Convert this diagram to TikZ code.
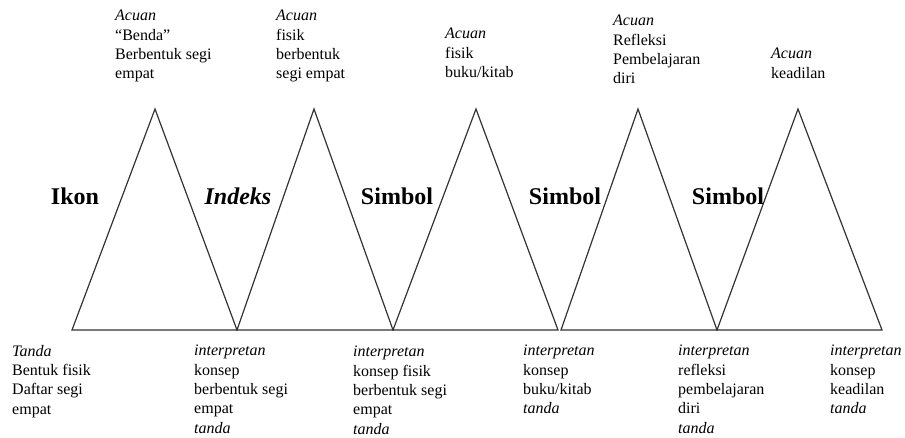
\documentclass[tikz,border=0pt]{standalone}
\usepackage{fontspec}
\setmainfont{Liberation Serif}
\usepackage{tikz}
\usetikzlibrary{positioning}

\begin{document}
\begin{tikzpicture}[
    x=1pt, y=-1pt,
    tri/.style={draw=black!80, line width=1.2pt, line join=miter},
    kind/.style={font=\fontsize{24}{26}\selectfont\bfseries, inner sep=0pt},
    note/.style={font=\fontsize{16}{19.3}\selectfont, align=left, anchor=north west, inner sep=0pt}
]
    \useasboundingbox (0,0) rectangle (905,437);

    % base and apex points
    \coordinate (b0) at (72,330);
    \coordinate (b1) at (237,330);
    \coordinate (b2) at (393,330);
    \coordinate (b3) at (558,330);
    \coordinate (c3) at (561,330);
    \coordinate (b4) at (717,330);
    \coordinate (b5) at (882,330);
    \coordinate (a1) at (155,109);
    \coordinate (a2) at (314,109);
    \coordinate (a3) at (476,109);
    \coordinate (a4) at (638,109);
    \coordinate (a5) at (798,109);

    \draw[tri] (b0) -- (a1) -- (b1) -- cycle;
    \draw[tri] (b1) -- (a2) -- (b2) -- cycle;
    \draw[tri] (b2) -- (a3) -- (b3) -- cycle;
    \draw[tri] (c3) -- (a4) -- (b4) -- cycle;
    \draw[tri] (b4) -- (a5) -- (b5) -- cycle;

    \node[kind] (ikon)    at (75,196)  {Ikon};
    \node[kind] (indeks)  at (238,196) {\itshape Indeks};
    \node[kind] (simbol1) at (397,196) {Simbol};
    \node[kind] (simbol2) at (565,196) {Simbol};
    \node[kind] (simbol3) at (728,196) {Simbol};

    % acuan
    \node[note] (acuan1) at (115,10) {\textit{Acuan}\\``Benda''\\Berbentuk segi\\empat};
    \node[note] (acuan2) at (276,10) {\textit{Acuan}\\fisik\\berbentuk\\segi empat};
    \node[note] (acuan3) at (445,28) {\textit{Acuan}\\fisik\\buku/kitab};
    \node[note] (acuan4) at (613,15) {\textit{Acuan}\\Refleksi\\Pembelajaran\\diri};
    \node[note] (acuan5) at (771,48) {\textit{Acuan}\\keadilan};

    % tanda / interpretan
    \node[note] (tanda1)  at (12,345)  {\textit{Tanda}\\Bentuk fisik\\Daftar segi\\empat};
    \node[note] (interp1) at (194,345) {\textit{interpretan}\\konsep\\berbentuk segi\\empat\\\textit{tanda}};
    \node[note] (interp2) at (353,346) {\textit{interpretan}\\konsep fisik\\berbentuk segi\\empat\\\textit{tanda}};
    \node[note] (interp3) at (523,345) {\textit{interpretan}\\konsep\\buku/kitab\\\textit{tanda}};
    \node[note] (interp4) at (678,345) {\textit{interpretan}\\refleksi\\pembelajaran\\diri\\\textit{tanda}};
    \node[note] (interp5) at (830,345) {\textit{interpretan}\\konsep\\keadilan\\\textit{tanda}};
\end{tikzpicture}
\end{document}
